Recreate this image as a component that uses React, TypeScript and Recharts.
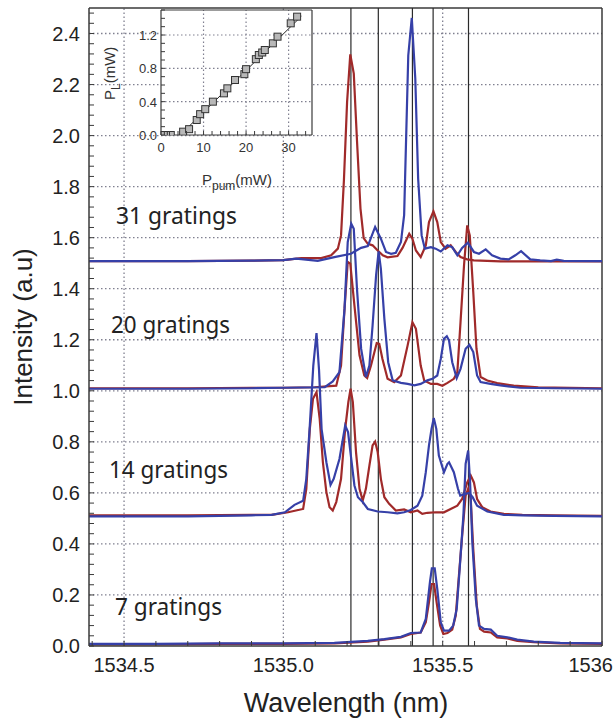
import React from 'react';
import {
  LineChart,
  Line,
  XAxis,
  YAxis,
  ReferenceLine,
  ReferenceArea,
  ComposedChart,
  Scatter,
} from 'recharts';

// 7 gratings (baseline 0)
const wlRed7 = [1534.39, 1534.6, 1534.8, 1535.0, 1535.16, 1535.265, 1535.317, 1535.369, 1535.4, 1535.431, 1535.447, 1535.457, 1535.465, 1535.473, 1535.481, 1535.492, 1535.502, 1535.515, 1535.53, 1535.541, 1535.551, 1535.562, 1535.572, 1535.58, 1535.588, 1535.596, 1535.607, 1535.617, 1535.63, 1535.651, 1535.671, 1535.703, 1535.734, 1535.786, 1535.869, 1536.0];
const intRed7 = [0.006, 0.006, 0.008, 0.008, 0.01, 0.017, 0.025, 0.034, 0.047, 0.053, 0.093, 0.171, 0.243, 0.243, 0.171, 0.08, 0.047, 0.051, 0.064, 0.119, 0.276, 0.446, 0.589, 0.616, 0.576, 0.38, 0.158, 0.067, 0.056, 0.053, 0.034, 0.03, 0.02, 0.015, 0.01, 0.008];
const wlBlue7 = [1534.39, 1534.6, 1534.8, 1535.0, 1535.16, 1535.265, 1535.317, 1535.369, 1535.4, 1535.431, 1535.447, 1535.46, 1535.466, 1535.475, 1535.483, 1535.494, 1535.504, 1535.52, 1535.533, 1535.544, 1535.554, 1535.565, 1535.572, 1535.58, 1535.586, 1535.593, 1535.604, 1535.614, 1535.63, 1535.651, 1535.671, 1535.703, 1535.734, 1535.786, 1535.869, 1536.0];
const intBlue7 = [0.008, 0.008, 0.01, 0.01, 0.012, 0.02, 0.027, 0.036, 0.051, 0.053, 0.106, 0.25, 0.304, 0.304, 0.224, 0.093, 0.06, 0.06, 0.08, 0.145, 0.315, 0.511, 0.714, 0.766, 0.642, 0.407, 0.184, 0.08, 0.067, 0.064, 0.04, 0.034, 0.025, 0.017, 0.012, 0.01];

// 14 gratings (baseline 0.5)
const wlRed14 = [1534.39, 1534.7, 1534.9, 1534.963, 1535.015, 1535.062, 1535.072, 1535.083, 1535.093, 1535.104, 1535.114, 1535.124, 1535.135, 1535.145, 1535.155, 1535.166, 1535.181, 1535.194, 1535.204, 1535.211, 1535.218, 1535.228, 1535.239, 1535.249, 1535.259, 1535.27, 1535.28, 1535.288, 1535.296, 1535.306, 1535.317, 1535.332, 1535.353, 1535.379, 1535.4, 1535.421, 1535.436, 1535.452, 1535.478, 1535.504, 1535.525, 1535.546, 1535.561, 1535.577, 1535.588, 1535.598, 1535.608, 1535.624, 1535.65, 1535.692, 1535.75, 1535.85, 1536.0];
const intRed14 = [0.512, 0.512, 0.514, 0.514, 0.524, 0.537, 0.616, 0.851, 0.969, 0.995, 0.89, 0.72, 0.603, 0.544, 0.531, 0.564, 0.655, 0.851, 0.956, 1.008, 0.956, 0.76, 0.616, 0.57, 0.616, 0.707, 0.786, 0.801, 0.76, 0.655, 0.583, 0.557, 0.531, 0.535, 0.524, 0.531, 0.518, 0.522, 0.524, 0.524, 0.537, 0.55, 0.576, 0.641, 0.668, 0.641, 0.576, 0.544, 0.527, 0.518, 0.514, 0.512, 0.51];
const wlBlue14 = [1534.39, 1534.7, 1534.9, 1534.963, 1535.005, 1535.035, 1535.062, 1535.072, 1535.083, 1535.094, 1535.104, 1535.112, 1535.12, 1535.135, 1535.148, 1535.158, 1535.176, 1535.187, 1535.194, 1535.203, 1535.213, 1535.223, 1535.234, 1535.249, 1535.265, 1535.296, 1535.327, 1535.358, 1535.379, 1535.4, 1535.421, 1535.436, 1535.447, 1535.457, 1535.465, 1535.472, 1535.48, 1535.488, 1535.504, 1535.515, 1535.52, 1535.535, 1535.548, 1535.555, 1535.568, 1535.583, 1535.594, 1535.608, 1535.64, 1535.692, 1535.75, 1535.85, 1536.0];
const intBlue14 = [0.508, 0.508, 0.512, 0.514, 0.524, 0.553, 0.569, 0.655, 0.864, 1.1, 1.226, 1.08, 0.85, 0.72, 0.631, 0.655, 0.733, 0.812, 0.864, 0.838, 0.733, 0.629, 0.583, 0.564, 0.537, 0.527, 0.524, 0.52, 0.524, 0.533, 0.55, 0.589, 0.681, 0.786, 0.851, 0.893, 0.851, 0.746, 0.681, 0.714, 0.72, 0.681, 0.616, 0.589, 0.595, 0.6, 0.583, 0.55, 0.527, 0.514, 0.512, 0.51, 0.508];

// 20 gratings (baseline 1.0)
const wlRed20 = [1534.39, 1534.7, 1534.9, 1535.0, 1535.098, 1535.166, 1535.181, 1535.192, 1535.202, 1535.21, 1535.223, 1535.239, 1535.254, 1535.263, 1535.275, 1535.293, 1535.301, 1535.311, 1535.327, 1535.348, 1535.369, 1535.39, 1535.405, 1535.416, 1535.431, 1535.442, 1535.463, 1535.483, 1535.499, 1535.515, 1535.535, 1535.546, 1535.556, 1535.567, 1535.577, 1535.585, 1535.596, 1535.606, 1535.619, 1535.64, 1535.671, 1535.723, 1535.8, 1536.0];
const intRed20 = [1.01, 1.01, 1.012, 1.012, 1.014, 1.02, 1.099, 1.322, 1.505, 1.498, 1.335, 1.139, 1.06, 1.05, 1.099, 1.187, 1.184, 1.125, 1.047, 1.034, 1.06, 1.178, 1.269, 1.243, 1.099, 1.04, 1.027, 1.027, 1.02, 1.031, 1.047, 1.073, 1.269, 1.492, 1.648, 1.609, 1.387, 1.165, 1.054, 1.04, 1.03, 1.02, 1.014, 1.01];
const wlBlue20 = [1534.39, 1534.7, 1534.9, 1535.0, 1535.13, 1535.155, 1535.176, 1535.192, 1535.202, 1535.213, 1535.221, 1535.231, 1535.244, 1535.259, 1535.27, 1535.28, 1535.291, 1535.299, 1535.306, 1535.317, 1535.329, 1535.343, 1535.369, 1535.39, 1535.411, 1535.431, 1535.452, 1535.468, 1535.483, 1535.494, 1535.504, 1535.513, 1535.52, 1535.53, 1535.544, 1535.556, 1535.572, 1535.584, 1535.596, 1535.608, 1535.619, 1535.65, 1535.681, 1535.744, 1535.85, 1536.0];
const intBlue20 = [1.008, 1.008, 1.01, 1.012, 1.014, 1.037, 1.073, 1.322, 1.583, 1.655, 1.635, 1.4, 1.165, 1.054, 1.099, 1.256, 1.452, 1.546, 1.478, 1.282, 1.112, 1.041, 1.031, 1.027, 1.021, 1.027, 1.041, 1.047, 1.06, 1.125, 1.204, 1.214, 1.197, 1.112, 1.05, 1.086, 1.165, 1.18, 1.152, 1.06, 1.034, 1.027, 1.021, 1.012, 1.01, 1.008];

// 31 gratings (baseline 1.5)
const wlRed31 = [1534.39, 1534.7, 1534.9, 1535.0, 1535.056, 1535.119, 1535.15, 1535.171, 1535.181, 1535.19, 1535.2, 1535.21, 1535.221, 1535.231, 1535.242, 1535.252, 1535.265, 1535.28, 1535.296, 1535.312, 1535.327, 1535.358, 1535.374, 1535.395, 1535.405, 1535.416, 1535.431, 1535.447, 1535.457, 1535.471, 1535.483, 1535.494, 1535.509, 1535.525, 1535.541, 1535.556, 1535.577, 1535.598, 1535.681, 1535.869, 1536.0];
const intRed31 = [1.508, 1.508, 1.51, 1.512, 1.52, 1.52, 1.531, 1.557, 1.609, 1.824, 2.132, 2.318, 2.243, 1.982, 1.714, 1.598, 1.576, 1.57, 1.55, 1.531, 1.523, 1.528, 1.56, 1.615, 1.596, 1.55, 1.524, 1.57, 1.661, 1.703, 1.661, 1.583, 1.557, 1.57, 1.544, 1.524, 1.515, 1.511, 1.507, 1.507, 1.507];
const wlBlue31 = [1534.39, 1534.7, 1534.9, 1535.0, 1535.04, 1535.056, 1535.108, 1535.16, 1535.212, 1535.244, 1535.265, 1535.288, 1535.306, 1535.322, 1535.338, 1535.353, 1535.369, 1535.379, 1535.392, 1535.403, 1535.414, 1535.423, 1535.434, 1535.444, 1535.463, 1535.478, 1535.494, 1535.515, 1535.53, 1535.546, 1535.561, 1535.579, 1535.598, 1535.614, 1535.635, 1535.655, 1535.681, 1535.707, 1535.728, 1535.746, 1535.775, 1535.806, 1535.84, 1535.858, 1535.88, 1536.0];
const intBlue31 = [1.508, 1.508, 1.51, 1.512, 1.518, 1.516, 1.509, 1.524, 1.537, 1.56, 1.567, 1.642, 1.596, 1.544, 1.537, 1.541, 1.583, 1.688, 2.314, 2.461, 2.224, 1.831, 1.609, 1.557, 1.563, 1.557, 1.546, 1.57, 1.563, 1.531, 1.56, 1.58, 1.544, 1.537, 1.554, 1.531, 1.518, 1.515, 1.531, 1.547, 1.515, 1.511, 1.508, 1.514, 1.509, 1.508];

// grating positions (vertical lines)
const gratingLines = [1535.212, 1535.298, 1535.405, 1535.47, 1535.581];

const groupLabels = ['31 gratings', '20 gratings', '14 gratings', '7 gratings'];

const xMajorTicks = [1534.5, 1535.0, 1535.5, 1536];
const xTickLabels = ['1534.5', '1535.0', '1535.5', '1536'];
const yMajorTicks = [0, 0.2, 0.4, 0.6, 0.8, 1.0, 1.2, 1.4, 1.6, 1.8, 2.0, 2.2, 2.4];
const xGrid = [1534.5, 1535.0, 1535.5];
const xMinorTicks = Array.from({ length: 17 }, (_, i) => +(1534.4 + i * 0.1).toFixed(1));
const yMinorTicks = Array.from({ length: 63 }, (_, i) => +(i * 0.04).toFixed(2));

// inset: laser output vs pump power
const pumpPower = [0, 0.8, 1.6, 2.3, 5.2, 6.6, 8.4, 9.2, 10.4, 12.2, 14.8, 15.6, 17.4, 19.6, 20.0, 22.3, 23.0, 23.8, 24.4, 26.3, 27.4, 30.5, 32.0];
const laserPower = [0, 0, 0, 0, 0.04, 0.07, 0.18, 0.25, 0.31, 0.4, 0.5, 0.56, 0.66, 0.73, 0.79, 0.91, 0.96, 0.99, 1.02, 1.1, 1.18, 1.34, 1.42];
const fitPump = [4.5, 33];
const fitLaser = [0, 1.425];
const insetXTicks = [0, 10, 20, 30];
const insetYTicks = [0, 0.4, 0.8, 1.2];
const insetXMinor = Array.from({ length: 18 }, (_, i) => i * 2);
const insetYMinor = Array.from({ length: 16 }, (_, i) => +(i * 0.1).toFixed(1));

const RED = '#a02a2a';
const BLUE = '#3640a8';
const AXIS = '#3a3a3a';
const GRID = '#808090';
const FONT = '"Liberation Sans", Arial, sans-serif';

const pts = (xs: number[], ys: number[]) => xs.map((x, i) => ({ x, y: ys[i] }));

const SERIES = [
  { id: 'red7', data: pts(wlRed7, intRed7), color: RED },
  { id: 'red14', data: pts(wlRed14, intRed14), color: RED },
  { id: 'red20', data: pts(wlRed20, intRed20), color: RED },
  { id: 'red31', data: pts(wlRed31, intRed31), color: RED },
  { id: 'blue7', data: pts(wlBlue7, intBlue7), color: BLUE },
  { id: 'blue14', data: pts(wlBlue14, intBlue14), color: BLUE },
  { id: 'blue20', data: pts(wlBlue20, intBlue20), color: BLUE },
  { id: 'blue31', data: pts(wlBlue31, intBlue31), color: BLUE },
];

const near = (a: number, b: number) => Math.abs(a - b) < 1e-6;

function MainXTick(props: any) {
  const { x, y, payload } = props;
  const idx = xMajorTicks.findIndex(v => near(v, payload.value));
  const last = idx === xMajorTicks.length - 1;
  return (
    <g>
      <line x1={x} y1={y} x2={x} y2={y - 5} stroke={AXIS} strokeWidth={1} />
      {idx >= 0 && (
        <text
          x={last ? 613 : x}
          y={y + 26}
          textAnchor={last ? 'end' : 'middle'}
          fontSize={20}
          fontFamily={FONT}
          fill="#222"
        >
          {xTickLabels[idx]}
        </text>
      )}
    </g>
  );
}

function MainYTick(props: any) {
  const { x, y, payload } = props;
  const major = yMajorTicks.some(v => near(v, payload.value));
  return (
    <g>
      <line x1={x} y1={y} x2={x + 5} y2={y} stroke={AXIS} strokeWidth={1} />
      {major && (
        <text x={x - 9} y={y + 7} textAnchor="end" fontSize={20} fontFamily={FONT} fill="#222">
          {payload.value.toFixed(1)}
        </text>
      )}
    </g>
  );
}

function InsetXTick(props: any) {
  const { x, y, payload } = props;
  const major = insetXTicks.includes(payload.value);
  return (
    <g>
      <line x1={x} y1={y} x2={x} y2={y - 4} stroke={AXIS} strokeWidth={1} />
      {major && (
        <text x={x} y={y + 17} textAnchor="middle" fontSize={13} fontFamily={FONT} fill="#333">
          {payload.value}
        </text>
      )}
    </g>
  );
}

function InsetYTick(props: any) {
  const { x, y, payload } = props;
  const major = insetYTicks.some(v => near(v, payload.value));
  return (
    <g>
      <line x1={x} y1={y} x2={x + 4} y2={y} stroke={AXIS} strokeWidth={1} />
      {major && (
        <text x={x - 4} y={y + 5} textAnchor="end" fontSize={13} fontFamily={FONT} fill="#333">
          {payload.value.toFixed(1)}
        </text>
      )}
    </g>
  );
}

const squareShape = (p: any) => (
  <rect x={p.cx - 3.5} y={p.cy - 3.5} width={7} height={7} fill="#b8b8b8" stroke="#333" strokeWidth={1} />
);

export default function App() {
  return (
    <div style={{ position: 'absolute', left: 0, top: 0, width: 614, height: 722, background: '#fff' }}>
      <LineChart width={614} height={722} margin={{ top: 8, right: 12, bottom: 0, left: 0 }}>
        <XAxis
          type="number"
          dataKey="x"
          domain={[1534.39, 1536]}
          allowDataOverflow
          ticks={xMinorTicks}
          interval={0}
          tick={MainXTick}
          tickSize={0}
          tickMargin={0}
          height={76}
          stroke={AXIS}
          strokeWidth={1.5}
        />
        <YAxis
          type="number"
          dataKey="y"
          domain={[0, 2.5]}
          allowDataOverflow
          ticks={yMinorTicks}
          interval={0}
          tick={MainYTick}
          tickSize={0}
          tickMargin={0}
          width={89}
          stroke={AXIS}
          strokeWidth={1.5}
        />
        {yMajorTicks.slice(1).map(v => (
          <ReferenceLine key={`gy${v}`} y={v} stroke={GRID} strokeDasharray="1.5 2.5" strokeWidth={1.3} />
        ))}
        {xGrid.map(v => (
          <ReferenceLine key={`gx${v}`} x={v} stroke={GRID} strokeDasharray="1.5 2.5" strokeWidth={1.3} />
        ))}
        <ReferenceLine y={2.5} stroke={AXIS} strokeWidth={1.5} />
        <ReferenceLine x={1536} stroke={AXIS} strokeWidth={1.5} />
        {gratingLines.map(g => (
          <ReferenceLine key={g} x={g} stroke="#2a2a2a" strokeWidth={1.2} />
        ))}
        {SERIES.map(s => (
          <Line
            key={s.id}
            data={s.data}
            dataKey="y"
            type="linear"
            stroke={s.color}
            strokeWidth={2.2}
            dot={false}
            isAnimationActive={false}
          />
        ))}
      </LineChart>

      <div style={{ position: 'absolute', left: 95, top: 0 }}>
        <ComposedChart width={225} height={200} margin={{ top: 10, right: 8, bottom: 0, left: 0 }}>
          <XAxis
            type="number"
            dataKey="x"
            domain={[0, 35.5]}
            allowDataOverflow
            ticks={insetXMinor}
            interval={0}
            tick={InsetXTick}
            tickSize={0}
            tickMargin={0}
            height={65}
            stroke={AXIS}
            strokeWidth={1.2}
          />
          <YAxis
            type="number"
            dataKey="y"
            domain={[0, 1.5]}
            allowDataOverflow
            ticks={insetYMinor}
            interval={0}
            tick={InsetYTick}
            tickSize={0}
            tickMargin={0}
            width={66}
            stroke={AXIS}
            strokeWidth={1.2}
          />
          <ReferenceArea x1={0} x2={35.5} y1={0} y2={1.5} fill="#fff" fillOpacity={1} stroke="none" />
          {insetYTicks.slice(1).map(v => (
            <ReferenceLine key={`iy${v}`} y={v} stroke={GRID} strokeDasharray="1.5 2.5" strokeWidth={1.2} />
          ))}
          {insetXTicks.slice(1).map(v => (
            <ReferenceLine key={`ix${v}`} x={v} stroke={GRID} strokeDasharray="1.5 2.5" strokeWidth={1.2} />
          ))}
          <ReferenceLine y={1.5} stroke={AXIS} strokeWidth={1.2} />
          <ReferenceLine x={35.5} stroke={AXIS} strokeWidth={1.2} />
          <Line
            data={pts(fitPump, fitLaser)}
            dataKey="y"
            type="linear"
            stroke="#222"
            strokeWidth={1}
            dot={false}
            isAnimationActive={false}
          />
          <Scatter data={pts(pumpPower, laserPower)} dataKey="y" shape={squareShape} isAnimationActive={false} />
        </ComposedChart>
      </div>

      <svg width={614} height={722} style={{ position: 'absolute', left: 0, top: 0, pointerEvents: 'none' }}>
        <text transform="translate(32,327) rotate(-90)" textAnchor="middle" fontSize={26} fontFamily={FONT} fill="#222">
          Intensity (a.u)
        </text>
        <text x={346} y={712} textAnchor="middle" fontSize={27} fontFamily={FONT} fill="#222">
          Wavelength (nm)
        </text>
        <g fontFamily='"Noto Sans", "Open Sans", sans-serif' fontSize={23} fill="#222">
          <text x={116} y={224} textLength={121} lengthAdjust="spacingAndGlyphs">{groupLabels[0]}</text>
          <text x={111} y={333} textLength={119} lengthAdjust="spacingAndGlyphs">{groupLabels[1]}</text>
          <text x={109} y={478} textLength={119} lengthAdjust="spacingAndGlyphs">{groupLabels[2]}</text>
          <text x={115} y={615} textLength={107} lengthAdjust="spacingAndGlyphs">{groupLabels[3]}</text>
        </g>
        <g fontFamily={FONT} fill="#333">
          <text x={202} y={185} fontSize={15}>
            P<tspan fontSize={12} dy={5}>pum</tspan>
            <tspan fontSize={15} dy={-5}>(mW)</tspan>
          </text>
          <text transform="translate(115,100) rotate(-90)" fontSize={15}>
            P<tspan fontSize={12} dy={5}>L</tspan>
            <tspan fontSize={15} dy={-5}>(mW)</tspan>
          </text>
        </g>
      </svg>
    </div>
  );
}
